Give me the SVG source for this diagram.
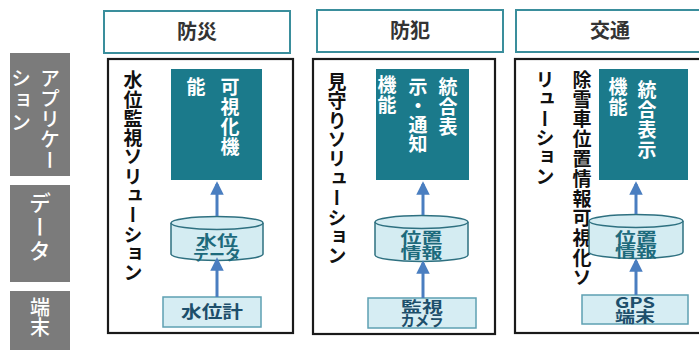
<svg xmlns="http://www.w3.org/2000/svg" width="699" height="350" viewBox="0 0 699 350">
<defs>
<style>
text{font-family:"Noto Sans CJK JP","Noto Sans",sans-serif;}
.v{writing-mode:vertical-rl;}
.lab{fill:#7b7b7b;}
.labt{fill:#fff;font-size:20px;font-weight:500;}
.hdr{fill:#fff;stroke:#3a8e9c;stroke-width:2;}
.hdrt{fill:#333;font-size:20px;font-weight:bold;text-anchor:middle;}
.sol{fill:#fff;stroke:#1a1a1a;stroke-width:2.2;}
.solt{fill:#111;font-size:19px;font-weight:bold;}
.app{fill:#1b7a8b;}
.appt{fill:#fff;font-size:19px;font-weight:bold;}
.cyl{fill:#d4ecf2;stroke:#2e7080;stroke-width:1.5;}
.cylt{fill:#1d6a7c;font-size:15px;font-weight:bold;text-anchor:middle;}
.dev{fill:#d6edf3;stroke:#5ea0b2;stroke-width:1.5;}
.devt{fill:#1d4f6b;font-size:15px;font-weight:bold;text-anchor:middle;}
.devt1{fill:#1d4f6b;font-size:17px;font-weight:bold;text-anchor:middle;}
.arr{stroke:#4a7ec0;stroke-width:3;fill:none;}
</style>
<marker id="ah" viewBox="0 0 10 10" refX="8" refY="5" markerWidth="5" markerHeight="4.5" orient="auto" markerUnits="strokeWidth">
<path d="M0,0 L10,5 L0,10 Z" fill="#4a7ec0"/>
</marker>
</defs>

<g id="label-app">
<rect class="lab" x="10" y="53" width="60" height="123"/>
<text class="v labt" x="50" y="68" letter-spacing="0.5">アプリケー</text>
<text class="v labt" x="21" y="68" letter-spacing="2">ション</text>
</g>
<g id="label-data">
<rect class="lab" x="10" y="185" width="60" height="97"/>
<text class="v labt" x="40" y="192" style="font-size:22px" letter-spacing="2">データ</text>
</g>
<g id="label-device">
<rect class="lab" x="10" y="291" width="60" height="62"/>
<text class="v labt" x="40" y="297">端末</text>
</g>

<g id="hdr-bousai">
<rect class="hdr" x="104" y="11" width="186" height="42"/>
<text class="hdrt" x="197" y="39">防災</text>
</g>
<g id="hdr-bouhan">
<rect class="hdr" x="317" y="10" width="186" height="42"/>
<text class="hdrt" x="410" y="38">防犯</text>
</g>
<g id="hdr-koutsu">
<rect class="hdr" x="516" y="10" width="190" height="42"/>
<text class="hdrt" x="610" y="38">交通</text>
</g>

<g id="sol-bousai">
<rect class="sol" x="108" y="59" width="185" height="274"/>
<text class="v solt" x="133" y="70.5" letter-spacing="0.3">水位監視ソリューション</text>
</g>
<g id="sol-bouhan">
<rect class="sol" x="313" y="59" width="182" height="275"/>
<text class="v solt" x="337" y="72" letter-spacing="0.4">見守りソリューション</text>
</g>
<g id="sol-koutsu">
<rect class="sol" x="515" y="59" width="190" height="274"/>
<text class="v solt" x="582" y="70" letter-spacing="0.8">除雪車位置情報可視化ソ</text>
<text class="v solt" x="545" y="70" letter-spacing="0.4">リューション</text>
</g>

<g id="app-bousai">
<rect class="app" x="171" y="69" width="91" height="111"/>
<text class="v appt" x="230" y="77.5" letter-spacing="1">可視化機</text>
<text class="v appt" x="196" y="77.5">能</text>
</g>
<g id="app-bouhan">
<rect class="app" x="376" y="69" width="93" height="111"/>
<text class="v appt" x="448" y="77.5" letter-spacing="1">統合表</text>
<text class="v appt" x="418" y="77.5">示・通知</text>
<text class="v appt" x="387" y="75.5" letter-spacing="1">機能</text>
</g>
<g id="app-koutsu">
<rect class="app" x="599" y="69" width="89" height="111"/>
<text class="v appt" x="647" y="80.5" letter-spacing="1">統合表示</text>
<text class="v appt" x="618" y="77.5" letter-spacing="1">機能</text>
</g>

<g id="data-bousai">
<path class="cyl" d="M171,223 v31 a46,6.5 0 0 0 92,0 v-31"/>
<ellipse class="cyl" cx="217" cy="223" rx="46" ry="6.5"/>
<text class="cylt" x="217" y="246" textLength="42" lengthAdjust="spacingAndGlyphs">水位</text>
<text class="cylt" x="217" y="260" textLength="48" lengthAdjust="spacingAndGlyphs">データ</text>
</g>
<g id="data-bouhan">
<path class="cyl" d="M375,222 v33 a46.5,6.5 0 0 0 93,0 v-33"/>
<ellipse class="cyl" cx="421.5" cy="222" rx="46.5" ry="6.5"/>
<text class="cylt" x="421.5" y="243" textLength="42" lengthAdjust="spacingAndGlyphs">位置</text>
<text class="cylt" x="421.5" y="258" textLength="42" lengthAdjust="spacingAndGlyphs">情報</text>
</g>
<g id="data-koutsu">
<path class="cyl" d="M589,221 v31 a47,6.5 0 0 0 94,0 v-31"/>
<ellipse class="cyl" cx="636" cy="221" rx="47" ry="6.5"/>
<text class="cylt" x="636" y="243" textLength="42" lengthAdjust="spacingAndGlyphs">位置</text>
<text class="cylt" x="636" y="257" textLength="42" lengthAdjust="spacingAndGlyphs">情報</text>
</g>

<g id="dev-bousai">
<rect class="dev" x="163" y="297" width="98" height="30"/>
<text class="devt1" x="212" y="318" textLength="62" lengthAdjust="spacingAndGlyphs">水位計</text>
</g>
<g id="dev-bouhan">
<rect class="dev" x="368" y="298" width="108" height="30"/>
<text class="devt" x="422" y="312" textLength="42" lengthAdjust="spacingAndGlyphs">監視</text>
<text class="devt" x="422" y="326" textLength="43" lengthAdjust="spacingAndGlyphs">カメラ</text>
</g>
<g id="dev-koutsu">
<rect class="dev" x="582" y="295" width="106" height="29"/>
<text class="devt" x="635" y="308" textLength="40" lengthAdjust="spacingAndGlyphs">GPS</text>
<text class="devt" x="635" y="322" textLength="40" lengthAdjust="spacingAndGlyphs">端末</text>
</g>

<g id="connectors">
<line class="arr" x1="217" y1="216" x2="217" y2="184" marker-end="url(#ah)"/>
<line class="arr" x1="217" y1="297" x2="217" y2="260" marker-end="url(#ah)"/>
<line class="arr" x1="423" y1="215" x2="423" y2="184" marker-end="url(#ah)"/>
<line class="arr" x1="423" y1="298" x2="423" y2="263" marker-end="url(#ah)"/>
<line class="arr" x1="636" y1="214" x2="636" y2="184" marker-end="url(#ah)"/>
<line class="arr" x1="636" y1="295" x2="636" y2="261" marker-end="url(#ah)"/>
</g>
</svg>
